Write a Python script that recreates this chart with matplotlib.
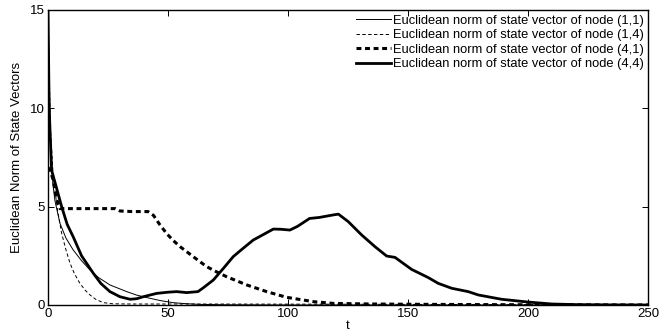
import matplotlib
matplotlib.use("Agg")
import matplotlib.pyplot as plt

plt.rcParams['font.family'] = ['Liberation Sans', 'DejaVu Sans']

# node (1,1), thin solid
t11 = [0, 1, 2, 2.9, 5, 7.5, 10.5, 14, 17.5, 21, 25.8, 32.8, 37, 42.5, 47, 52, 57, 63, 75, 100, 150, 250]
v11 = [15, 8.5, 6.2, 5.3, 4.15, 3.4, 2.8, 2.25, 1.78, 1.4, 1.02, 0.68, 0.5, 0.34, 0.22, 0.12, 0.07, 0.03, 0.01, 0.0, 0.0, 0.0]

# node (1,4), thin dashed
t14 = [0, 1, 2.2, 4, 5.7, 7.5, 9.2, 11, 13.3, 15.5, 17.5, 20, 23, 27, 35, 60, 120, 250]
v14 = [15, 9, 6.5, 4.8, 3.64, 2.8, 2.12, 1.6, 1.1, 0.75, 0.51, 0.28, 0.12, 0.06, 0.05, 0.05, 0.04, 0.0]

# node (4,1), thick dotted
t41 = [0, 1, 2.2, 3.5, 5, 10, 20, 28, 30, 35, 41.7, 44, 46.5, 49.4, 52, 55, 60.5, 66.1, 70, 74.4,
       82.8, 91.1, 99.4, 110.5, 119, 135, 160, 200, 250]
v41 = [7.0, 6.8, 6.35, 5.4, 4.9, 4.9, 4.9, 4.9, 4.78, 4.75, 4.75, 4.55, 4.1, 3.64, 3.3, 2.97, 2.46, 1.95, 1.7, 1.44,
       1.02, 0.68, 0.39, 0.17, 0.08, 0.05, 0.03, 0.01, 0.0]

# node (4,4), thick solid
t44 = [0, 0.5, 1.5, 3, 5.7, 8, 10.5, 14, 18.9, 22, 25.8, 30, 34.2, 37, 39.7, 45.3, 50, 53.6, 57.8, 62.5,
       65, 68.9, 73, 77.2, 81, 85.5, 90, 93.9, 97, 100.8, 104, 109, 113, 118.9, 121, 125.1, 130.7, 136.2,
       141.1, 144.6, 151.5, 158.5, 162.6, 168.2, 175.1, 179.3, 189, 200, 209.9, 220, 235, 250]
v44 = [15, 10, 6.86, 6.2, 5.0, 4.1, 3.47, 2.5, 1.61, 1.1, 0.68, 0.42, 0.29, 0.32, 0.42, 0.59, 0.65, 0.68, 0.63, 0.68,
       0.9, 1.27, 1.85, 2.46, 2.85, 3.3, 3.6, 3.86, 3.85, 3.81, 4.0, 4.4, 4.45, 4.58, 4.62, 4.24, 3.56, 2.97,
       2.49, 2.42, 1.81, 1.39, 1.1, 0.85, 0.68, 0.51, 0.29, 0.15, 0.05, 0.02, 0.005, 0.0]

labels = ["Euclidean norm of state vector of node (1,1)",
          "Euclidean norm of state vector of node (1,4)",
          "Euclidean norm of state vector of node (4,1)",
          "Euclidean norm of state vector of node (4,4)"]

fig = plt.figure(figsize=(6.71, 3.36), dpi=100)
ax = fig.add_axes([0.0715, 0.0923, 0.8942, 0.8780])

ax.plot(t11, v11, color='black', lw=0.7, label=labels[0])
ax.plot(t14, v14, color='black', lw=0.7, dashes=(3.5, 2.5), label=labels[1])
ax.plot(t41, v41, color='black', lw=2.2, dashes=(1.6, 1.2), label=labels[2])
ax.plot(t44, v44, color='black', lw=2.0, label=labels[3])

ax.set_xlim(0, 250)
ax.set_ylim(0, 15)
ax.set_xticks([0, 50, 100, 150, 200, 250])
ax.set_yticks([0, 5, 10, 15])
ax.tick_params(direction='in', top=True, right=True, labelsize=9.5, length=4, width=0.7, pad=2)
for s in ax.spines.values():
    s.set_linewidth(1.0)

ax.set_xlabel('t', fontsize=9.5, labelpad=0)
ax.set_ylabel('Euclidean Norm of State Vectors', fontsize=9.5, labelpad=5)

ax.legend(loc='upper right', frameon=False, fontsize=9.3, handlelength=2.7, handletextpad=0.1,
          labelspacing=0.2, borderaxespad=0.05, borderpad=0.3)

fig.savefig('out.png', dpi=100)
